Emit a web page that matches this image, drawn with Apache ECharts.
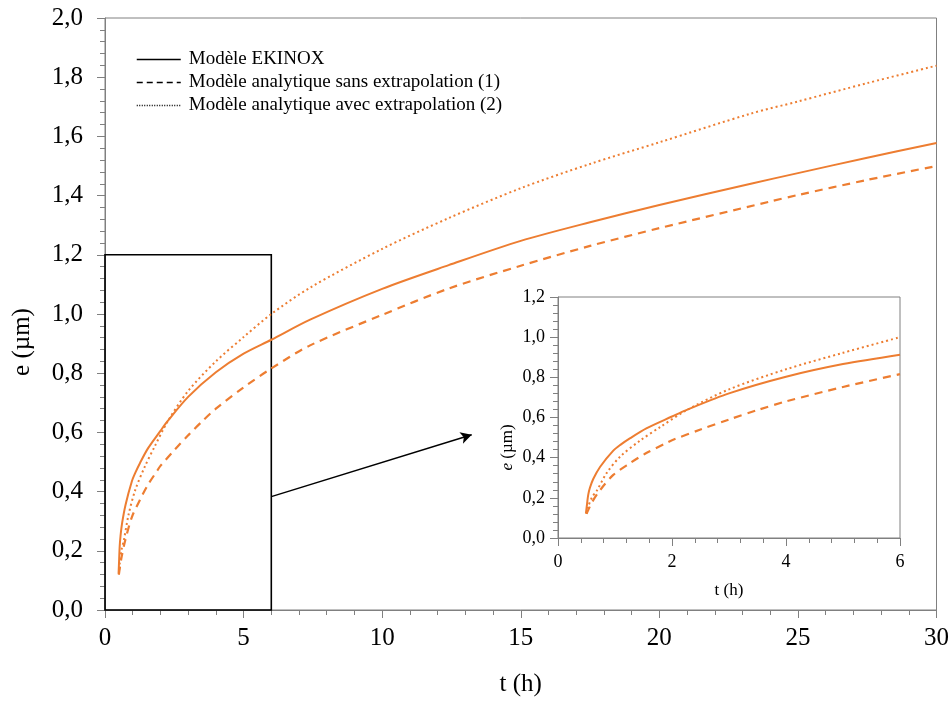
<!DOCTYPE html>
<html>
<head>
<meta charset="utf-8">
<script src="https://cdn.jsdelivr.net/npm/echarts@6/dist/echarts.min.js"></script>
<style>html,body{margin:0;padding:0;background:#fff}#c{width:952px;height:702px}</style>
</head>
<body>
<div id="c"></div>
<script>
// ---- data ----
const seriesNames = ['Modèle EKINOX', 'Modèle analytique sans extrapolation (1)', 'Modèle analytique avec extrapolation (2)'];

const tEkinox = [0.49, 0.51, 0.53, 0.56, 0.62, 0.74, 0.97, 1.1, 1.26, 1.55, 2, 2.25, 3, 4, 5, 6, 7.4, 10, 12.4, 15, 17.5, 20, 23.3, 25, 27.5, 30];
const eEkinox = [0.123, 0.17, 0.215, 0.25, 0.295, 0.355, 0.435, 0.465, 0.496, 0.546, 0.605, 0.637, 0.72, 0.803, 0.866, 0.913, 0.981, 1.085, 1.165, 1.247, 1.31, 1.368, 1.44, 1.476, 1.528, 1.578];

const tSans = [0.5, 0.53, 0.6, 0.74, 0.97, 1.26, 1.55, 1.9, 2.0, 2.5, 3.0, 3.5, 4, 5, 6, 7.4, 10, 12.4, 15, 17.5, 20, 24, 25, 27.5, 30];
const eSans = [0.12, 0.139, 0.18, 0.239, 0.314, 0.372, 0.423, 0.473, 0.487, 0.54, 0.59, 0.637, 0.68, 0.752, 0.816, 0.894, 0.997, 1.086, 1.163, 1.23, 1.29, 1.38, 1.402, 1.453, 1.5];

const tAvec = [0.5, 0.53, 0.6, 0.68, 0.85, 1.09, 1.44, 1.79, 2.26, 3, 4, 5, 6, 7.4, 10, 12.4, 15, 17.5, 20, 23.3, 25, 27.5, 30];
const eAvec = [0.12, 0.156, 0.205, 0.235, 0.322, 0.405, 0.485, 0.552, 0.637, 0.74, 0.84, 0.922, 1.0, 1.089, 1.22, 1.324, 1.425, 1.507, 1.58, 1.677, 1.718, 1.78, 1.839];

const zoomBox = [0, 0, 6, 1.2];          // [t0, e0, t1, e1]
const arrowFrom = [6, 0.383];
const arrowTo = [13.23, 0.592];

// ---- chart ----
const ORANGE = '#ED7D31';
const AX = '#808080';
const FONT = '"Liberation Serif", "Times New Roman", serif';
const fmt = v => v.toFixed(1).replace('.', ',');
const pairs = (ts, es, maxT) => ts.map((t, i) => [t, es[i]]).filter(p => maxT === undefined || p[0] <= maxT + 1e-9);

const styles = [
  { type: 'solid', width: 2 },
  { type: [8, 6], width: 2.2 },
  { type: [2, 3], width: 2 }
];
const datasets = [[tEkinox, eEkinox], [tSans, eSans], [tAvec, eAvec]];

function axisCommon(fontSize) {
  return {
    axisLine: { show: true, onZero: false, lineStyle: { color: AX, width: 1 } },
    axisTick: { show: true, inside: false, length: 8, lineStyle: { color: AX } },
    minorTick: { show: true, splitNumber: 5, length: 5, lineStyle: { color: AX } },
    splitLine: { show: false },
    minorSplitLine: { show: false },
    axisLabel: { fontFamily: FONT, fontSize: fontSize, color: '#000' }
  };
}

const series = [];
datasets.forEach((d, i) => {
  const s = {
    name: seriesNames[i], type: 'line', xAxisIndex: 0, yAxisIndex: 0,
    data: pairs(d[0], d[1]), symbol: 'none', smooth: 0.3,
    lineStyle: Object.assign({ color: ORANGE }, styles[i]), itemStyle: { color: ORANGE },
    z: 3
  };
  if (i === 0) {
    s.markArea = {
      silent: true,
      itemStyle: { color: 'rgba(0,0,0,0)', borderColor: '#000', borderWidth: 1.6 },
      data: [[{ coord: [zoomBox[0], zoomBox[1]] }, { coord: [zoomBox[2], zoomBox[3]] }]]
    };
    s.markLine = {
      silent: true, symbol: ['none', 'arrow'], symbolSize: [9, 11],
      label: { show: false },
      lineStyle: { color: '#000', width: 1.5, type: 'solid' },
      data: [[{ coord: arrowFrom }, { coord: arrowTo }]]
    };
  }
  series.push(s);
  series.push({
    name: seriesNames[i], type: 'line', xAxisIndex: 1, yAxisIndex: 1,
    data: pairs(d[0], d[1], 6), symbol: 'none', smooth: 0.3,
    lineStyle: Object.assign({ color: ORANGE }, styles[i]), itemStyle: { color: ORANGE },
    z: 3
  });
});

const option = {
  animation: false,
  backgroundColor: '#fff',
  textStyle: { fontFamily: FONT },
  legend: {
    left: 131, top: 45, orient: 'vertical', itemWidth: 44, itemHeight: 14, itemGap: 4,
    selectedMode: false,
    textStyle: { fontFamily: FONT, fontSize: 19, color: '#000', padding: [0, 0, 0, 3] },
    data: seriesNames.map((n, i) => ({
      name: n,
      lineStyle: { color: '#000', width: 1.5, type: i === 0 ? 'solid' : (i === 1 ? [6, 4] : [1, 1.5]) },
      itemStyle: { opacity: 0 }
    }))
  },
  grid: [
    { left: 105, right: 15, top: 18, bottom: 86, show: true, borderColor: AX, borderWidth: 1, containLabel: false },
    { left: 558, right: 52, top: 297, bottom: 164, show: true, borderColor: AX, borderWidth: 1, backgroundColor: '#fff', containLabel: false }
  ],
  xAxis: [
    Object.assign(axisCommon(25), {
      type: 'value', gridIndex: 0, min: 0, max: 30, interval: 5,
      name: 't (h)', nameLocation: 'middle', nameGap: 62,
      nameTextStyle: { fontFamily: FONT, fontSize: 25, color: '#000' }
    }),
    Object.assign(axisCommon(18), {
      type: 'value', gridIndex: 1, min: 0, max: 6, interval: 2,
      name: 't (h)', nameLocation: 'middle', nameGap: 44,
      nameTextStyle: { fontFamily: FONT, fontSize: 17, color: '#000' }
    })
  ],
  yAxis: [
    Object.assign(axisCommon(25), {
      type: 'value', gridIndex: 0, min: 0, max: 2, interval: 0.2,
      name: 'e (µm)', nameLocation: 'middle', nameGap: 70,
      nameTextStyle: { fontFamily: FONT, fontSize: 25, color: '#000', padding: [0, 56, 0, 0] }
    }),
    Object.assign(axisCommon(18), {
      type: 'value', gridIndex: 1, min: 0, max: 1.2, interval: 0.2,
      name: '{i|e} (µm)', nameLocation: 'middle', nameGap: 42,
      nameTextStyle: { fontFamily: FONT, fontSize: 17, color: '#000', padding: [0, 60, 0, 0],
        rich: { i: { fontFamily: FONT, fontSize: 17, fontStyle: 'italic', color: '#000' } } }
    })
  ],
  series: series
};
option.xAxis.forEach((a, i) => { a.axisLabel.formatter = v => String(v); a.axisLabel.margin = i === 0 ? 16 : 15; });
option.yAxis.forEach((a, i) => { a.axisLabel.formatter = fmt; a.axisLabel.margin = i === 0 ? 22 : 13; });

const chart = echarts.init(document.getElementById('c'), null, { renderer: 'canvas' });
chart.setOption(option);
</script>
</body>
</html>
